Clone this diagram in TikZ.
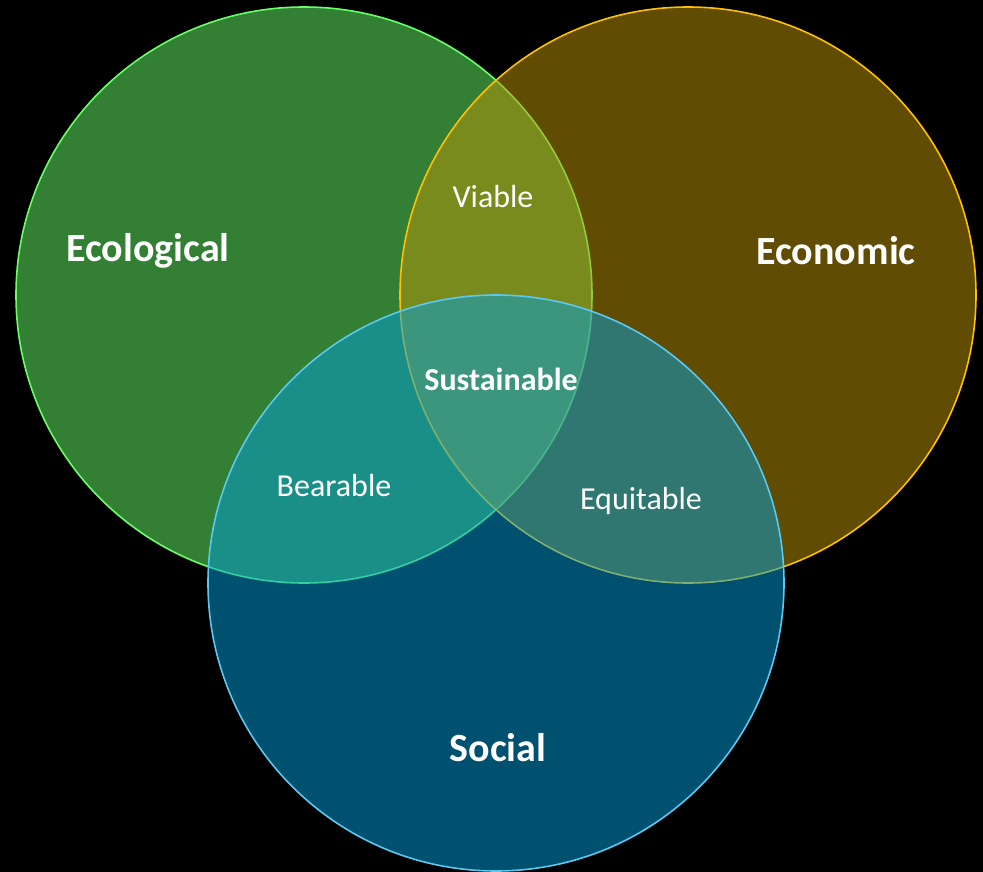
\documentclass[tikz,border=0pt]{standalone}
\usepackage{fontspec}
\setmainfont{Carlito}
\usepackage{tikz}

\definecolor{ecofill}{RGB}{102,254,102}
\definecolor{ecoline}{RGB}{102,255,102}
\definecolor{econfill}{RGB}{194,152,8}
\definecolor{econline}{RGB}{255,192,0}
\definecolor{socfill}{RGB}{0,160,222}
\definecolor{socline}{RGB}{91,200,240}

\tikzset{
    pillar/.style={shape=circle, minimum size=576pt, inner sep=0pt, fill opacity=0.5, line width=1.6pt},
    title/.style={text=white, font=\fontsize{40}{46}\selectfont\bfseries},
    overlap/.style={text=white, font=\fontsize{32}{38}\selectfont},
}

\begin{document}
\begin{tikzpicture}[x=1pt, y=-1pt]
    \fill[black] (0,0) rectangle (983,872);
    \node[pillar, fill=ecofill, draw=ecoline] at (304,295) (Eco) {};
    \node[pillar, fill=econfill, draw=econline] at (688,295) (Econ) {};
    \node[pillar, fill=socfill, draw=socline] at (496,583) (Soc) {};
    \node[title] at (148,251) (EcoLabel) {Ecological};
    \node[title] at (836,251) (EconLabel) {Economic};
    \node[title] at (498,748) (SocLabel) {Social};
    \node[overlap] at (493,197) (Viable) {Viable};
    \node[overlap, font=\fontsize{32}{38}\selectfont\bfseries] at (501,379) (Sust) {Sustainable};
    \node[overlap] at (334,486) (Bear) {Bearable};
    \node[overlap] at (641,501) (Equi) {Equitable};
\end{tikzpicture}
\end{document}
